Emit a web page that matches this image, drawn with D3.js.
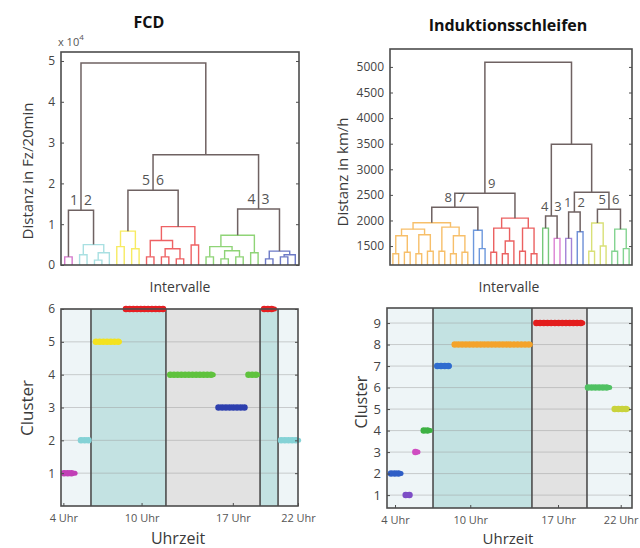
<!DOCTYPE html>
<html>
<head>
<meta charset="utf-8">
<script src="https://cdn.jsdelivr.net/npm/d3@7"></script>
<style>
body { margin: 0; background: #fff; }
text { font-family: "Open Sans", sans-serif; }
</style>
</head>
<body>
<svg id="chart" width="640" height="548"></svg>
<script>
// ---------- FCD dendrogram (distances x 10^4) ----------
// leaf -> cluster, leaves listed left to right
var fcdLeafCluster = [1, 1, 2, 2, 2, 2, 2, 5, 5, 5, 5, 6, 6, 6, 6, 6, 6, 6, 6,
                      4, 4, 4, 4, 4, 4, 4, 4, 3, 3, 3, 3, 3];
// [node, left, right, height]
var fcdLinks = [
    ["a1", 0, 1, 0.2],
    ["b1", 2, 3, 0.25], ["b2", 4, 5, 0.12], ["b3", "b2", 6, 0.3], ["b4", "b1", "b3", 0.5],
    ["c1", 7, 8, 0.45], ["c2", 9, 10, 0.4], ["c3", "c1", "c2", 0.83],
    ["d1", 11, 12, 0.2], ["d2", 13, 14, 0.2], ["d3", 15, 16, 0.15], ["d4", "d2", "d3", 0.4],
    ["d5", "d1", "d4", 0.6], ["d6", 17, 18, 0.49], ["d7", "d5", "d6", 0.94],
    ["e1", 19, 20, 0.2], ["e2", 21, 22, 0.15], ["e3", 23, 24, 0.2], ["e4", "e2", "e3", 0.35],
    ["e5", "e1", "e4", 0.45], ["e6", 25, 26, 0.3], ["e7", "e5", "e6", 0.73],
    ["f1", 27, 28, 0.15], ["f2", 29, 30, 0.2], ["f3", "f2", 31, 0.25], ["f4", "f1", "f3", 0.34],
    ["g1", "a1", "b4", 1.34], ["g2", "c3", "d7", 1.83], ["g3", "e7", "f4", 1.37],
    ["g4", "g2", "g3", 2.7], ["g5", "g1", "g4", 4.95]
];
var fcdNodeLabels = [["g1", "1", "2"], ["g2", "5", "6"], ["g3", "4", "3"]];
var fcdDistTicks = [0, 1, 2, 3, 4, 5];

// ---------- Induktionsschleifen dendrogram (km/h) ----------
var loopLeafCluster = [8, 8, 8, 8, 8, 8, 8, 8, 8, 8, 8, 8, 8, 8, 7, 7, 7,
                       9, 9, 9, 9, 9, 9, 9, 9, 9, 4, 4, 3, 3, 1, 1, 2, 2,
                       5, 5, 5, 5, 6, 6, 6, 6];
var loopLinks = [
    ["a1", 0, 1, 1350], ["a2", 2, 3, 1380], ["a3", "a1", "a2", 1700],
    ["a4", 4, 5, 1350], ["a5", 6, 7, 1400], ["a6", "a4", "a5", 1720], ["a7", "a3", "a6", 1830],
    ["a8", 8, 9, 1400], ["a9", 10, 11, 1350], ["a10", 12, 13, 1380], ["a11", "a9", "a10", 1700],
    ["a12", "a8", "a11", 1870], ["a13", "a7", "a12", 1955],
    ["b1", 15, 16, 1450], ["b2", 14, "b1", 1810],
    ["c1", 17, 18, 1380], ["c2", 19, 20, 1350], ["c3", "c2", 21, 1600], ["c4", "c1", "c3", 1850],
    ["c5", 22, 23, 1400], ["c6", 24, 25, 1350], ["c7", "c5", "c6", 1850], ["c8", "c4", "c7", 2045],
    ["d1", 26, 27, 1850],
    ["e1", 28, 29, 1650],
    ["f1", 30, 31, 1650],
    ["g1", 32, 33, 1780],
    ["h1", 34, 35, 1400], ["h2", 36, 37, 1500], ["h3", "h1", "h2", 1950],
    ["i1", 38, 39, 1400], ["i2", 40, 41, 1450], ["i3", "i1", "i2", 1830],
    ["j1", "a13", "b2", 2260], ["j2", "j1", "c8", 2530], ["j3", "d1", "e1", 2085],
    ["j4", "f1", "g1", 2165], ["j5", "h3", "i3", 2220], ["j6", "j4", "j5", 2550],
    ["j7", "j3", "j6", 3490], ["j8", "j2", "j7", 5090]
];
var loopNodeLabels = [["j1", "8", "7"], ["j2", "", "9"], ["j3", "4", "3"], ["j4", "1", "2"], ["j5", "5", "6"]];
var loopDistTicks = [1500, 2000, 2500, 3000, 3500, 4000, 4500, 5000];

// ---------- cluster over the day ----------
var hourTicks = [4, 10, 17, 22];
var hourLabels = ["4 Uhr", "10 Uhr", "17 Uhr", "22 Uhr"];
// [cluster, from hour, to hour]
var fcdSegments = [[1, 4.05, 4.9], [2, 5.35, 5.95], [5, 6.5, 8.3], [6, 8.8, 11.7],
                   [4, 12.2, 15.5], [3, 15.9, 17.9], [4, 18.2, 18.9], [6, 19.4, 20.2],
                   [2, 20.7, 22.05]];
var loopSegments = [[2, 3.68, 4.48], [1, 4.85, 5.17], [3, 5.62, 5.83], [4, 6.29, 6.81],
                    [7, 7.37, 8.33], [8, 8.76, 14.79], [9, 15.27, 18.97], [6, 19.39, 21.12],
                    [5, 21.52, 22.55]];
// day phases [from, to, kind]
var fcdPhases = [[3.82, 6.12, 0], [6.12, 11.87, 1], [11.87, 19.09, 2], [19.09, 20.47, 1], [20.47, 22.0, 0]];
var loopPhases = [[3.36, 7.03, 0], [7.03, 14.92, 1], [14.92, 19.31, 2], [19.31, 22.9, 0]];
var fcdClusterTicks = [1, 2, 3, 4, 5, 6];
var loopClusterTicks = [1, 2, 3, 4, 5, 6, 7, 8, 9];

var fcdColors = {1: "#c13fb6", 2: "#84d2d6", 3: "#2d3fae", 4: "#5fc23d", 5: "#f3e21f", 6: "#e61f22"};
var loopColors = {1: "#7d4ec6", 2: "#2f5ec6", 3: "#cf4cc1", 4: "#3db143", 5: "#c9d33c",
                  6: "#4fc162", 7: "#2f6ccf", 8: "#f4a32a", 9: "#e31d1d"};
var phaseFill = ["#eef5f7", "#c3e2e2", "#e2e2e2"];
var linkGray = "#6f6262", frameColor = "#4d4d4d", tickColor = "#555";

var svg = d3.select("#chart");

function boxAxes(g, b, x, y, yTicks, yFmt, fontSize, xTicks, xFmt) {
    var left = d3.axisLeft(y).tickValues(yTicks).tickSize(-3).tickPadding(6).tickFormat(yFmt);
    var right = d3.axisRight(y).tickValues(yTicks).tickSize(-3).tickFormat("");
    var ga = g.append("g").attr("transform", "translate(" + b.x0 + ",0)").call(left);
    g.append("g").attr("transform", "translate(" + b.x1 + ",0)").call(right);
    if (xTicks) {
        var bottom = d3.axisBottom(x).tickValues(xTicks).tickSize(-3).tickPadding(8).tickFormat(xFmt);
        var gb = g.append("g").attr("transform", "translate(0," + b.y1 + ")").call(bottom);
        gb.selectAll("text").attr("fill", tickColor).style("font-size", "11px");
    }
    g.selectAll(".domain").remove();
    g.selectAll(".tick line").attr("stroke", frameColor);
    ga.selectAll("text").attr("fill", "#444").style("font-size", fontSize);
    g.append("rect").attr("x", b.x0).attr("y", b.y0)
        .attr("width", b.x1 - b.x0).attr("height", b.y1 - b.y0)
        .attr("fill", "none").attr("stroke", frameColor).attr("stroke-width", 1.6);
}

function drawDendro(b, leafCluster, links, colors, yDomain, yTicks, nodeLabels, labelSize) {
    var n = leafCluster.length;
    var x = d3.scaleLinear().domain([-0.5, n - 0.5]).range([b.x0, b.x1]);
    var y = d3.scaleLinear().domain(yDomain).range([b.y1, b.y0]);
    var g = svg.append("g");
    var nodes = {};
    leafCluster.forEach(function (c, i) { nodes[i] = {pos: i, h: yDomain[0], cl: c}; });
    links.forEach(function (l) {
        var a = nodes[l[1]], c = nodes[l[2]];
        var cl = a.cl === c.cl ? a.cl : null;
        nodes[l[0]] = {pos: (a.pos + c.pos) / 2, h: l[3], cl: cl};
        var p = d3.path();
        p.moveTo(x(a.pos), y(a.h));
        p.lineTo(x(a.pos), y(l[3]));
        p.lineTo(x(c.pos), y(l[3]));
        p.lineTo(x(c.pos), y(c.h));
        g.append("path").attr("d", p.toString()).attr("fill", "none")
            .attr("stroke", cl === null ? linkGray : d3.interpolateRgb(colors[cl], "#fff")(0.3))
            .attr("stroke-width", cl === null ? 1.5 : 1.4);
    });
    nodeLabels.forEach(function (d) {
        var nd = nodes[d[0]];
        var px = x(nd.pos), py = y(nd.h) - 5;
        g.append("text").attr("x", px - 3).attr("y", py).attr("text-anchor", "end")
            .attr("fill", "#555").style("font-size", labelSize).text(d[1]);
        g.append("text").attr("x", px + 3).attr("y", py).attr("text-anchor", "start")
            .attr("fill", "#555").style("font-size", labelSize).text(d[2]);
    });
    boxAxes(svg.append("g"), b, x, y, yTicks, d3.format("d"), "12px");
}

function drawClusters(b, segments, phases, colors, xDomain, yDomain, yTicks, fontSize) {
    var x = d3.scaleLinear().domain(xDomain).range([b.x0, b.x1]);
    var y = d3.scaleLinear().domain(yDomain).range([b.y1, b.y0]);
    var g = svg.append("g");
    g.selectAll("rect.phase").data(phases).enter().append("rect")
        .attr("x", function (d) { return x(d[0]); })
        .attr("width", function (d) { return x(d[1]) - x(d[0]); })
        .attr("y", b.y0).attr("height", b.y1 - b.y0)
        .attr("fill", function (d) { return phaseFill[d[2]]; });
    g.selectAll("line.grid").data(yTicks).enter().append("line")
        .attr("x1", b.x0).attr("x2", b.x1)
        .attr("y1", function (d) { return y(d); }).attr("y2", function (d) { return y(d); })
        .attr("stroke", "#9a9a9a").attr("stroke-opacity", 0.45);
    g.selectAll("line.sep").data(phases.slice(1)).enter().append("line")
        .attr("x1", function (d) { return x(d[0]); }).attr("x2", function (d) { return x(d[0]); })
        .attr("y1", b.y0).attr("y2", b.y1)
        .attr("stroke", frameColor).attr("stroke-width", 1.6);
    var seg = g.selectAll("g.seg").data(segments).enter().append("g");
    seg.append("line")
        .attr("x1", function (d) { return x(d[1]); }).attr("x2", function (d) { return x(d[2]); })
        .attr("y1", function (d) { return y(d[0]); }).attr("y2", function (d) { return y(d[0]); })
        .attr("stroke", function (d) { return colors[d[0]]; })
        .attr("stroke-width", 5).attr("stroke-linecap", "round");
    seg.append("line")
        .attr("x1", function (d) { return x(d[1]); }).attr("x2", function (d) { return x(d[2]); })
        .attr("y1", function (d) { return y(d[0]); }).attr("y2", function (d) { return y(d[0]); })
        .attr("stroke", function (d) { return colors[d[0]]; })
        .attr("stroke-width", 6.5).attr("stroke-linecap", "round")
        .attr("stroke-dasharray", "0.1 3.6");
    boxAxes(svg.append("g"), b, x, y, yTicks, d3.format("d"), fontSize,
        hourTicks, function (d, i) { return hourLabels[i]; });
}

drawDendro({x0: 61, x1: 299, y0: 52, y1: 265}, fcdLeafCluster, fcdLinks, fcdColors,
    [0, 5.22], fcdDistTicks, fcdNodeLabels, "14px");
drawDendro({x0: 390, x1: 632, y0: 49, y1: 265}, loopLeafCluster, loopLinks, loopColors,
    [1130, 5350], loopDistTicks, loopNodeLabels, "13px");
drawClusters({x0: 61, x1: 298, y0: 309, y1: 506}, fcdSegments, fcdPhases, fcdColors,
    [3.82, 22.0], [0, 6], fcdClusterTicks, "12px");
drawClusters({x0: 387, x1: 632, y0: 308, y1: 508}, loopSegments, loopPhases, loopColors,
    [3.36, 22.9], [0.4, 9.7], loopClusterTicks, "13px");

// titles and axis labels
function label(x, y, txt, size, opts) {
    opts = opts || {};
    var t = svg.append("text").attr("x", x).attr("y", y).attr("text-anchor", "middle")
        .attr("fill", opts.fill || "#3a3a3a").style("font-size", size).text(txt);
    if (opts.bold) t.style("font-weight", "bold");
    if (opts.rotate) t.attr("transform", "rotate(-90," + x + "," + y + ")");
    return t;
}
label(149, 28, "FCD", "16px", {bold: true, fill: "#111"});
label(508, 31, "Induktionsschleifen", "16px", {bold: true, fill: "#111"});
var sci = svg.append("text").attr("x", 58).attr("y", 46).attr("fill", "#555").style("font-size", "11px");
sci.append("tspan").text("x 10");
sci.append("tspan").attr("dy", -6).style("font-size", "8px").text("4");
label(33, 171, "Distanz in Fz/20min", "15px", {rotate: true});
label(348, 172, "Distanz in km/h", "15px", {rotate: true});
label(180, 292, "Intervalle", "14px");
label(509, 292, "Intervalle", "14px");
label(33, 408, "Cluster", "17px", {rotate: true});
label(367, 402, "Cluster", "16px", {rotate: true});
label(178, 544, "Uhrzeit", "16px");
label(508, 544, "Uhrzeit", "15px");
</script>
</body>
</html>
